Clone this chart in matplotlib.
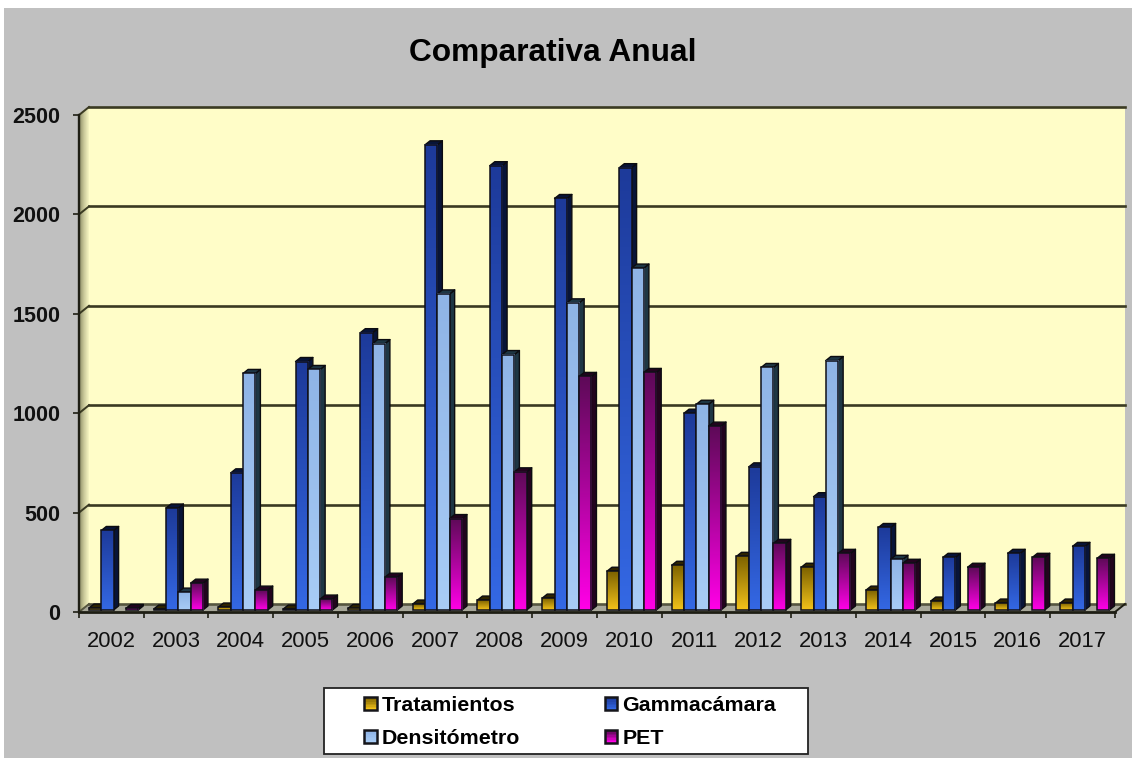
import numpy as np
import matplotlib
matplotlib.use("Agg")
import matplotlib.pyplot as plt
from matplotlib.colors import LinearSegmentedColormap, to_rgb
from matplotlib.legend_handler import HandlerBase
from matplotlib.patches import Patch, Polygon, Rectangle
from matplotlib.transforms import Affine2D, IdentityTransform

plt.rcParams["font.family"] = ["Liberation Sans", "DejaVu Sans"]

years = [2002, 2003, 2004, 2005, 2006, 2007, 2008, 2009,
         2010, 2011, 2012, 2013, 2014, 2015, 2016, 2017]
tratamientos = [10, 5, 15, 5, 8, 30, 50, 60, 195, 225, 270, 215, 100, 45, 35, 35]
gammacamara = [400, 513, 690, 1250, 1395, 2340, 2235, 2070,
               2225, 990, 720, 570, 415, 265, 285, 320]
densitometro = [0, 90, 1190, 1210, 1340, 1590, 1285, 1545,
                1720, 1035, 1220, 1255, 255, 0, 0, 0]
pet = [8, 135, 100, 55, 165, 460, 695, 1175, 1195, 925, 335, 285, 235, 215, 265, 260]
y_ticks = [0, 500, 1000, 1500, 2000, 2500]

series = [
    ("Tratamientos", tratamientos, "#7D6200", "#F2C21A", "#2E2400"),
    ("Gammacámara", gammacamara, "#1D3A9A", "#3468E4", "#081438"),
    ("Densitómetro", densitometro, "#8FB4E6", "#A8CCF6", "#1E3644"),
    ("PET", pet, "#5E0A58", "#FF00E6", "#22041E"),
]

W, H = 1132, 758
fig = plt.figure(figsize=(W / 100, H / 100), dpi=100, facecolor="white")

# Grey chart area leaves a thin white strip on the top and left
fig.patches.append(Rectangle((4 / W, 0), 1 - 4 / W, 1 - 8 / H, transform=fig.transFigure,
                             facecolor="#C0C0C0", edgecolor="none", zorder=-5))

ax = fig.add_axes([79 / W, (H - 612) / H, (1115 - 79) / W, 497 / H])
ax.set_xlim(0, len(years))
ax.set_ylim(0, 2500)
ax.patch.set_visible(False)
for spine in ax.spines.values():
    spine.set_visible(False)

DEPTH_X, DEPTH_Y = 10, 8
PX = IdentityTransform()


def proj(x, v, dx=0.0, dy=0.0):
    """Data position to display pixels, pushed back by (dx, dy) pixels."""
    px, py = ax.transData.transform((x, v))
    return (px + dx, py + dy)


def poly(points, color, z, edge="none", lw=0.0):
    ax.add_patch(Polygon(points, closed=True, transform=PX, facecolor=color,
                         edgecolor=edge, linewidth=lw, zorder=z, clip_on=False,
                         joinstyle="round"))


def line(points, color, lw, z):
    xs, ys = zip(*points)
    ax.plot(xs, ys, transform=PX, color=color, lw=lw, zorder=z, clip_on=False,
            solid_capstyle="projecting", scalex=False, scaley=False)


n = len(years)
top = y_ticks[-1]

# Back wall
poly([proj(0, 0, DEPTH_X, DEPTH_Y), proj(n, 0, DEPTH_X, DEPTH_Y),
      proj(n, top, DEPTH_X, DEPTH_Y), proj(0, top, DEPTH_X, DEPTH_Y)], "#FFFDC8", 1)

# Left wall, shaded in narrow vertical strips
wall_cmap = LinearSegmentedColormap.from_list("wall", ["#8F8F68", "#C9C89A", "#F3F2BE"])
for k in range(DEPTH_X):
    d0, d1 = k, k + 1
    poly([proj(0, 0, d0, d0 * DEPTH_Y / DEPTH_X), proj(0, 0, d1, d1 * DEPTH_Y / DEPTH_X),
          proj(0, top, d1, d1 * DEPTH_Y / DEPTH_X), proj(0, top, d0, d0 * DEPTH_Y / DEPTH_X)],
         wall_cmap(k / (DEPTH_X - 1)), 1)

# Floor
poly([proj(0, 0), proj(n, 0), proj(n, 0, DEPTH_X, DEPTH_Y), proj(0, 0, DEPTH_X, DEPTH_Y)],
     "#A8A89A", 2)

# Grid lines run along the back wall and step down the left wall
for v in y_ticks:
    col = "#3A3A22" if v else "#55553F"
    line([proj(0, v, DEPTH_X, DEPTH_Y), proj(n, v, DEPTH_X, DEPTH_Y)], col, 1.9, 3)
    line([proj(0, v), proj(0, v, DEPTH_X, DEPTH_Y)], col, 1.4, 3)

# Front edges of the box
line([proj(0, 0), proj(0, top)], "#1E1E14", 1.7, 3)
line([proj(0, 0), proj(n, 0)], "#1E1E14", 2.0, 3)
line([proj(n, 0), proj(n, 0, DEPTH_X, DEPTH_Y)], "#1E1E14", 1.4, 3)

# Bars: gradient front face, dark side and top faces
BAR_PX = 12.3
START_PX = 8.0
SHIFT_X, SHIFT_Y = 2.0, 2.0
SIDE_X, SIDE_Y = 5.0, 4.0
cat_px = proj(1, 0)[0] - proj(0, 0)[0]
front_tf = ax.transData + Affine2D().translate(SHIFT_X, SHIFT_Y)

z = 5.0
for i in range(n):
    for s, (name, values, c_top, c_bot, c_side) in enumerate(series):
        v = values[i]
        z += 0.01
        if v <= 0:
            continue
        x0 = i + (START_PX + s * BAR_PX) / cat_px
        x1 = x0 + BAR_PX / cat_px
        fx, fy = SHIFT_X, SHIFT_Y
        bx, by = SHIFT_X + SIDE_X, SHIFT_Y + SIDE_Y
        poly([proj(x1, 0, fx, fy), proj(x1, 0, bx, by), proj(x1, v, bx, by), proj(x1, v, fx, fy)],
             c_side, z, edge="#0C0C10", lw=1.0)
        poly([proj(x0, v, fx, fy), proj(x1, v, fx, fy), proj(x1, v, bx, by), proj(x0, v, bx, by)],
             c_side, z, edge="#0C0C10", lw=1.0)
        cmap = LinearSegmentedColormap.from_list(name, [c_top, c_bot])
        grad = np.linspace(0, 1, 64)[:, None]
        img = ax.imshow(grad, cmap=cmap, extent=(x0, x1, 0, v), origin="upper",
                        aspect="auto", zorder=z, interpolation="bilinear", clip_on=False)
        img.set_transform(front_tf)
        ax.add_patch(Rectangle((x0, 0), x1 - x0, v, transform=front_tf, fill=False,
                               edgecolor="#101018", linewidth=1.1, zorder=z, clip_on=False))

ax.set_xlim(0, n)
ax.set_ylim(0, top)

# Axes ticks and labels
ax.set_xticks(np.arange(n + 1))
ax.set_xticklabels([])
ax.set_xticks(np.arange(n) + 0.5, minor=True)
ax.set_xticklabels(years, minor=True, fontsize=15.8, color="#111111")
ax.tick_params(axis="x", which="major", length=4.5, width=1.2, color="#1E1E14")
ax.tick_params(axis="x", which="minor", length=0, pad=14)
ax.set_yticks(y_ticks)
ax.set_yticklabels(y_ticks, fontsize=15.5, fontweight="bold", color="#111111")
ax.tick_params(axis="y", length=4.5, width=1.2, color="#1E1E14", pad=9)

fig.text(552.5 / W, 1 - 53 / H, "Comparativa Anual", ha="center", va="center",
         fontsize=22.8, fontweight="bold", color="black")


class GradientSwatch(HandlerBase):
    """Legend key filled with the same top-to-bottom gradient as the bars."""

    def create_artists(self, legend, orig, xd, yd, width, height, fontsize, trans):
        c_top, c_bot = orig.gradient
        side = 9.0
        x = -xd + (width - side) / 2
        y = -yd + (height - side) / 2
        out = []
        steps = 8
        for k in range(steps):
            t = k / (steps - 1)
            col = tuple(a + (b - a) * t for a, b in zip(to_rgb(c_top), to_rgb(c_bot)))
            out.append(Rectangle((x, y + side * (1 - (k + 1) / steps)), side, side / steps,
                                 facecolor=col, edgecolor="none", transform=trans))
        out.append(Rectangle((x, y), side, side, fill=False, edgecolor="#15151A",
                             linewidth=1.8, transform=trans))
        return out


handles = []
for name, values, c_top, c_bot, c_side in series:
    h = Patch(label=name)
    h.gradient = (c_top, c_bot)
    handles.append(h)

# White legend box is wider than its entries, so it is drawn on its own
fig.patches.append(Rectangle((324 / W, 1 - 754 / H), 484 / W, 66 / H, transform=fig.transFigure,
                             facecolor="white", edgecolor="#222222", linewidth=1.3, zorder=4))

# Column-first filling: left column holds Tratamientos and Densitómetro
order = [handles[0], handles[2], handles[1], handles[3]]
leg = fig.legend(order, [h.get_label() for h in order], ncol=2,
                 loc="upper left", bbox_to_anchor=(364 / W, 1 - 696 / H),
                 handler_map={Patch: GradientSwatch()},
                 prop={"size": 15.4, "weight": "bold"}, frameon=False,
                 handlelength=0.6, handletextpad=0.22, columnspacing=3.96,
                 labelspacing=0.66, borderpad=0, borderaxespad=0)

fig.savefig("out.png", dpi=100, facecolor=fig.get_facecolor())
